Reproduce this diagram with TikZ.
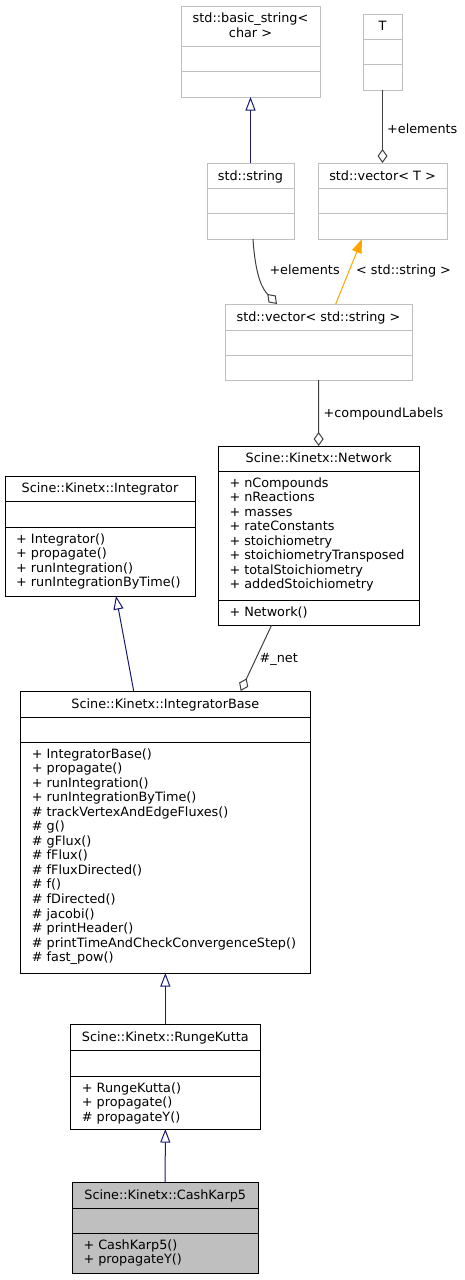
\documentclass[tikz,border=0pt]{standalone}
\usepackage{fontspec}
\setmainfont{DejaVu Sans}
\usetikzlibrary{arrows.meta,calc}
\definecolor{edgegray}{HTML}{404040}
\definecolor{boxgray}{HTML}{BFBFBF}
\definecolor{navyblue}{HTML}{191970}
\definecolor{orng}{HTML}{FFA500}
\newcommand\classbox[8]{%
  \pgfmathsetmacro\cbw{#4-#2}\pgfmathsetmacro\cbh{#5-#3}%
  \node[#8, anchor=north west, minimum width=\cbw pt, minimum height=\cbh pt, inner sep=0pt, outer sep=0pt] (#1) at (#2,#3) {};
  \draw[#8] (#2,#6) -- (#4,#6);
  \draw[#8] (#2,#7) -- (#4,#7);}
\newcommand\members[4]{%
  \foreach \t [count=\i] in {#4} {%
    \pgfmathsetmacro\yy{#3+16+14.55*(\i-1)}%
    \node[member] (#1-\i) at (#2+11,\yy) {\t};}}
\tikzset{
  stdbox/.style={draw=boxgray, fill=white, line width=1pt},
  scinebox/.style={draw=black, fill=white, line width=1pt},
  curbox/.style={draw=black, fill=boxgray, line width=1pt},
  member/.style={anchor=base west, inner sep=0pt},
  ttl/.style={anchor=base, inner sep=0pt},
  lbl/.style={anchor=base west, inner sep=0pt},
  inherit/.style={draw=navyblue, line width=1pt, -{Triangle[open, length=13.5pt, width=10pt]}},
  aggr/.style={draw=edgegray, line width=1pt, -{Diamond[open, length=14pt, width=10pt]}},
  tmpl/.style={draw=orng, line width=1pt, -{Triangle[length=14pt, width=10pt]}}
}
\begin{document}
\begin{tikzpicture}[x=1pt, y=-1pt, font=\fontsize{12.8pt}{14.55pt}\selectfont]
\useasboundingbox (0,0) rectangle (465,1280);
% boxes
\classbox{bstr}{181}{6}{320}{97}{46.5}{71.5}{stdbox}
\node[ttl] (bstr-t1) at (250.5,22.5) {std::basic\_string<};
\node[ttl] (bstr-t2) at (250.5,37) {char >};
\classbox{T}{363}{14}{402}{90}{39}{64.5}{stdbox}
\node[ttl] (T-t) at (382.5,30.6) {T};
\classbox{str}{207}{163}{294}{239}{188.5}{213.5}{stdbox}
\node[ttl] (str-t) at (250.5,180) {std::string};
\classbox{vecT}{318}{163}{447}{239}{188.5}{213.5}{stdbox}
\node[ttl] (vecT-t) at (382.5,180) {std::vector< T >};
\classbox{vecstr}{225}{304}{412}{380}{330}{355}{stdbox}
\node[ttl] (vecstr-t) at (318.5,321.6) {std::vector< std::string >};
\classbox{net}{218.3}{446}{419}{625}{471}{600}{scinebox}
\node[ttl] (net-t) at (318.7,462.6) {Scine::Kinetx::Network};
\members{net-a}{218.3}{471}{+ nCompounds,+ nReactions,+ masses,+ rateConstants,+ stoichiometry,+ stoichiometryTransposed,+ totalStoichiometry,+ addedStoichiometry}
\members{net-m}{218.3}{600}{+ Network()}
\classbox{integ}{5}{476}{195}{596}{501}{527}{scinebox}
\node[ttl] (integ-t) at (100,492.2) {Scine::Kinetx::Integrator};
\members{integ-m}{5}{527}{+ Integrator(),+ propagate(),+ runIntegration(),+ runIntegrationByTime()}
\classbox{ibase}{20.7}{691}{310}{973}{717}{742}{scinebox}
\node[ttl] (ibase-t) at (165.3,708) {Scine::Kinetx::IntegratorBase};
\members{ibase-m}{20.7}{742}{+ IntegratorBase(),+ propagate(),+ runIntegration(),+ runIntegrationByTime(),\# trackVertexAndEdgeFluxes(),\# g(),\# gFlux(),\# fFlux(),\# fFluxDirected(),\# f(),\# fDirected(),\# jacobi(),\# printHeader(),\# printTimeAndCheckConvergenceStep(),\# fast\_pow()}
\classbox{rk}{70.7}{1024}{260}{1129}{1050}{1076}{scinebox}
\node[ttl] (rk-t) at (165.3,1041) {Scine::Kinetx::RungeKutta};
\members{rk-m}{70.7}{1076}{+ RungeKutta(),+ propagate(),\# propagateY()}
\classbox{ck}{72.3}{1182}{258}{1273}{1208}{1233}{curbox}
\node[ttl] (ck-t) at (165.2,1199) {Scine::Kinetx::CashKarp5};
\members{ck-m}{72.3}{1233}{+ CashKarp5(),+ propagateY()}
% connectors
\draw[inherit] (str.north) -- (bstr.south);
\draw[aggr] (T.south) -- (vecT.north);
\draw[aggr] ($(str.south)+(2.5,0)$) .. controls ($(str.south)+(5,38)$) and ($(str.south)+(12,50)$) .. ($(vecstr.north west)+(52,0)$);
\draw[tmpl] ($(vecstr.north west)+(110.7,0)$) -- ($(vecT.south west)+(44,0)$);
\draw[aggr] (vecstr.south) -- (net.north);
\draw[inherit] ($(ibase.north west)+(113,0)$) -- ($(integ.south west)+(111,0)$);
\draw[aggr] ($(net.south west)+(53.4,0)$) -- ($(ibase.north west)+(220,0)$);
\draw[inherit] (rk.north) -- (ibase.south);
\draw[inherit] (ck.north) -- (rk.south);
% labels
\node[lbl] (l1) at (387,133) {+elements};
\node[lbl] (l2) at (269.3,274.7) {+elements};
\node[lbl] (l3) at (356,274.7) {< std::string >};
\node[lbl] (l4) at (323.5,417) {+compoundLabels};
\node[lbl] (l5) at (259.5,662.3) {\#\_net};
\end{tikzpicture}
\end{document}
